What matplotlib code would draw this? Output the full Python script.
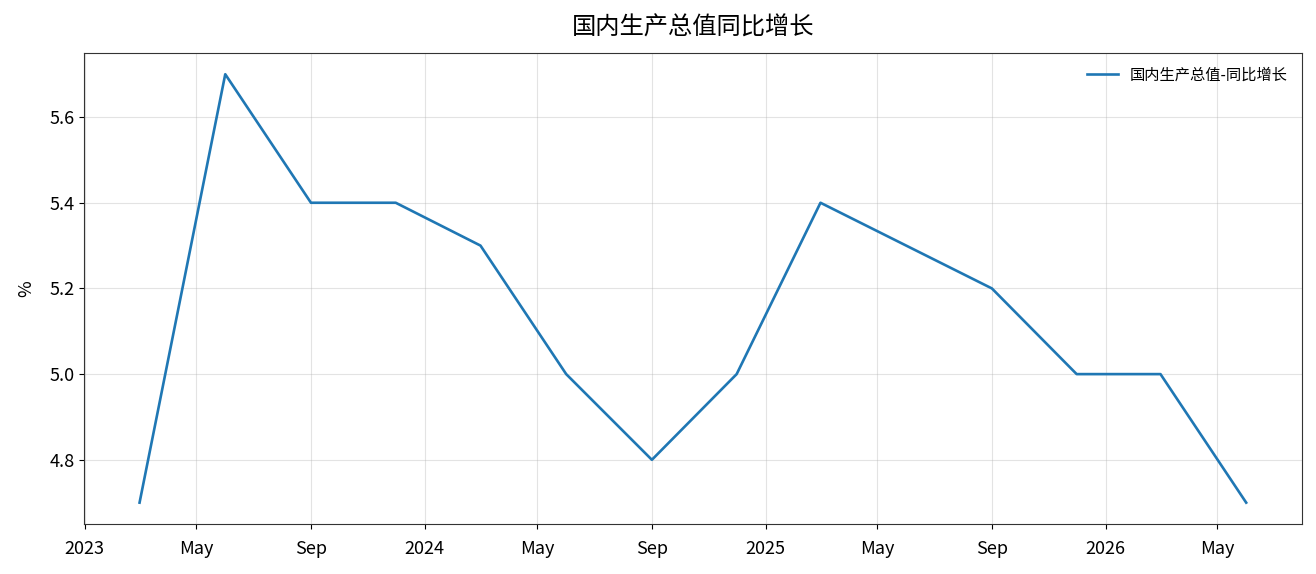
"""GDP year-on-year growth, quarterly line chart."""
import matplotlib
matplotlib.use("Agg")
import matplotlib.pyplot as plt
import matplotlib.dates as mdates
import pandas as pd

plt.rcParams["font.family"] = ["Noto Sans CJK SC", "DejaVu Sans"]
plt.rcParams["axes.unicode_minus"] = False

dates = ["2023-03-01", "2023-06-01", "2023-09-01", "2023-12-01",
         "2024-03-01", "2024-06-01", "2024-09-01", "2024-12-01",
         "2025-03-01", "2025-06-01", "2025-09-01", "2025-12-01",
         "2026-03-01", "2026-06-01"]
gdp_yoy = [4.7, 5.7, 5.4, 5.4,
           5.3, 5.0, 4.8, 5.0,
           5.4, 5.3, 5.2, 5.0,
           5.0, 4.7]

series_label = "国内生产总值-同比增长"
title = "国内生产总值同比增长"

x = pd.to_datetime(dates)

fig, ax = plt.subplots(figsize=(13.16, 5.74), dpi=100)
ax.plot(x, gdp_yoy, color="#1f77b4", linewidth=1.9, label=series_label)

locator = mdates.AutoDateLocator()
ax.xaxis.set_major_locator(locator)
ax.xaxis.set_major_formatter(mdates.ConciseDateFormatter(locator))

ax.set_title(title, fontsize=17.5, pad=13)
ax.set_ylabel("%", fontsize=13, labelpad=10)
ax.tick_params(labelsize=13)
ax.tick_params(axis="x", pad=8)
ax.grid(True, alpha=0.35)
for s in ax.spines.values():
    s.set_color("#333333")
ax.legend(loc="upper right", frameon=False, fontsize=11)

fig.subplots_adjust(left=0.064, right=0.989, top=0.908, bottom=0.087)
fig.savefig("out.png", dpi=100)
